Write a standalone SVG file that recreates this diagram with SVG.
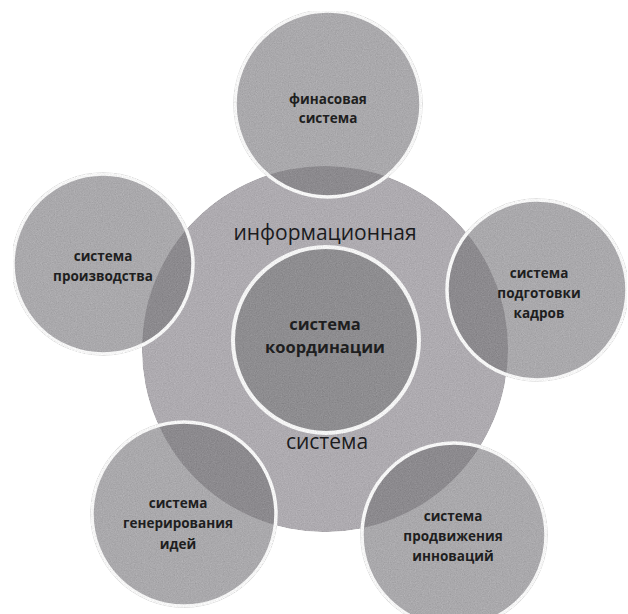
<svg xmlns="http://www.w3.org/2000/svg" width="628" height="614" viewBox="0 0 628 614">
<style>
.bg{fill:#ffffff}
.big{fill:#aeabb0}
.inner{fill:#8e8d90;stroke:#f4f4f4;stroke-width:4}
.outer{fill:#aaa9ac}
.ovl{fill:#8c8a8e}
.ring{fill:none;stroke:#f6f6f6;stroke-width:3.5}
.lbl{font-family:"Open Sans","Noto Sans",sans-serif;font-weight:bold;font-size:13.5px;fill:#1e1e20;text-anchor:middle}
.mid{font-family:"Open Sans","Noto Sans",sans-serif;font-size:21px;fill:#1b1b1d;text-anchor:middle}
.ctr{font-family:"Open Sans","Noto Sans",sans-serif;font-weight:bold;font-size:16.5px;fill:#1e1e20;text-anchor:middle}
</style>
<defs>
<clipPath id="bigclip"><circle cx="325" cy="349" r="183"/></clipPath>
<filter id="grain" x="0" y="0" width="100%" height="100%" color-interpolation-filters="sRGB">
<feTurbulence type="fractalNoise" baseFrequency="0.85" numOctaves="2" seed="7" result="n"/>
<feColorMatrix in="n" type="matrix" values="0.33 0.33 0.33 0 0  0.33 0.33 0.33 0 0  0.33 0.33 0.33 0 0  0 0 0 0 1" result="g"/>
<feComposite in="SourceGraphic" in2="g" operator="arithmetic" k1="0" k2="1" k3="0.22" k4="-0.11" result="m"/>
<feComposite in="m" in2="SourceGraphic" operator="in"/>
</filter>
</defs>
<rect class="bg" x="0" y="0" width="628" height="614"/>
<g filter="url(#grain)">
<g id="info-system">
<circle class="big" cx="325" cy="349" r="183"/>
</g>
<g id="coordination">
<circle class="inner" cx="326" cy="340" r="93"/>
</g>
<g id="finance">
<circle class="outer" cx="328" cy="104" r="93"/>
<circle class="ovl" cx="328" cy="104" r="93" clip-path="url(#bigclip)"/>
<circle class="ring" cx="328" cy="104" r="93"/>
</g>
<g id="production">
<circle class="outer" cx="103" cy="264" r="90"/>
<circle class="ovl" cx="103" cy="264" r="90" clip-path="url(#bigclip)"/>
<circle class="ring" cx="103" cy="264" r="90"/>
</g>
<g id="training">
<circle class="outer" cx="537" cy="290" r="90"/>
<circle class="ovl" cx="537" cy="290" r="90" clip-path="url(#bigclip)"/>
<circle class="ring" cx="537" cy="290" r="90"/>
</g>
<g id="ideas">
<circle class="outer" cx="184" cy="514" r="92"/>
<circle class="ovl" cx="184" cy="514" r="92" clip-path="url(#bigclip)"/>
<circle class="ring" cx="184" cy="514" r="92"/>
</g>
<g id="promotion">
<circle class="outer" cx="454" cy="535" r="92"/>
<circle class="ovl" cx="454" cy="535" r="92" clip-path="url(#bigclip)"/>
<circle class="ring" cx="454" cy="535" r="92"/>
</g>
</g>
<g id="labels">
<text class="mid" x="325" y="240">информационная</text>
<text class="mid" x="327" y="449">система</text>
<text class="ctr" x="325" y="330">система</text>
<text class="ctr" x="325" y="353">координации</text>
<text class="lbl" x="328" y="104">финасовая</text>
<text class="lbl" x="328" y="123">система</text>
<text class="lbl" x="103" y="261">система</text>
<text class="lbl" x="103" y="281">производства</text>
<text class="lbl" x="539" y="278">система</text>
<text class="lbl" x="539" y="298">подготовки</text>
<text class="lbl" x="539" y="318">кадров</text>
<text class="lbl" x="178" y="508">система</text>
<text class="lbl" x="178" y="528">генерирования</text>
<text class="lbl" x="178" y="549">идей</text>
<text class="lbl" x="453" y="521">система</text>
<text class="lbl" x="453" y="541">продвижения</text>
<text class="lbl" x="453" y="561">инноваций</text>
</g>
</svg>
